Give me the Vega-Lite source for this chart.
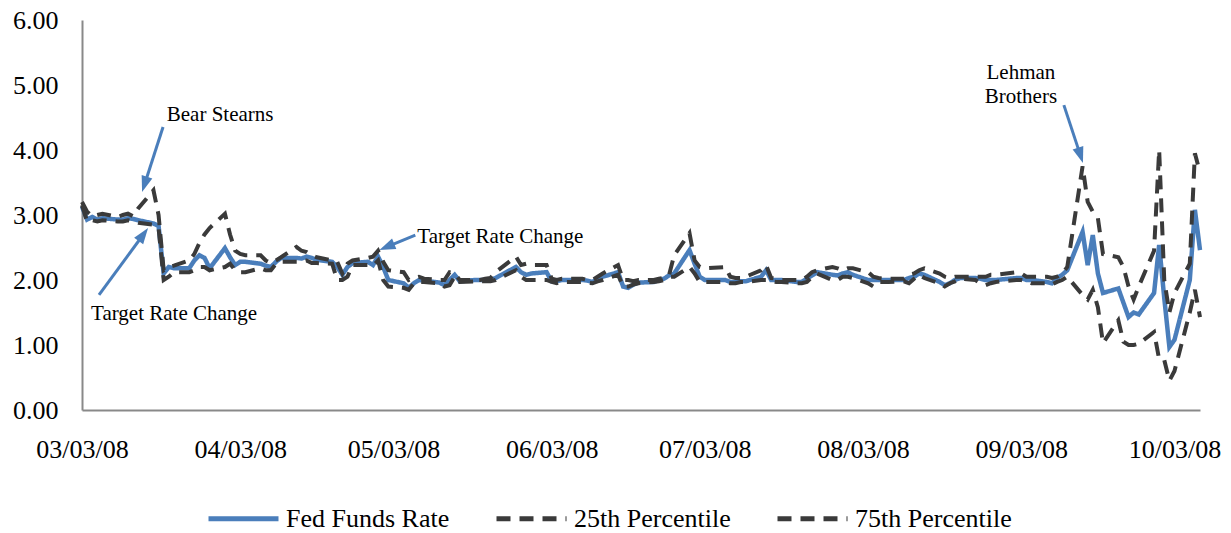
{
  "$schema": "https://vega.github.io/schema/vega-lite/v6.json",
  "width": 1118,
  "height": 390,
  "autosize": {"type": "none"},
  "padding": {"left": 82, "top": 20, "right": 31, "bottom": 123},
  "background": "#ffffff",
  "config": {
    "view": {"stroke": null},
    "font": "Liberation Serif",
    "axis": {"labelFont": "Liberation Serif", "labelFontSize": 26, "labelColor": "#000000", "grid": false, "ticks": false, "domainColor": "#898989", "domainWidth": 2, "title": null},
    "legend": {"labelFont": "Liberation Serif"}
  },
  "datasets": {
    "rates": [
      {"date": "2008-03-03", "Fed Funds Rate": 3.13, "25th Percentile": 3.15, "75th Percentile": 3.20},
      {"date": "2008-03-04", "Fed Funds Rate": 2.93, "25th Percentile": 2.90, "75th Percentile": 3.05},
      {"date": "2008-03-05", "Fed Funds Rate": 2.97, "25th Percentile": 2.92, "75th Percentile": 2.98},
      {"date": "2008-03-06", "Fed Funds Rate": 2.93, "25th Percentile": 2.90, "75th Percentile": 3.00},
      {"date": "2008-03-07", "Fed Funds Rate": 2.95, "25th Percentile": 2.92, "75th Percentile": 3.02},
      {"date": "2008-03-10", "Fed Funds Rate": 2.93, "25th Percentile": 2.90, "75th Percentile": 2.97},
      {"date": "2008-03-11", "Fed Funds Rate": 2.93, "25th Percentile": 2.90, "75th Percentile": 3.00},
      {"date": "2008-03-12", "Fed Funds Rate": 2.95, "25th Percentile": 2.92, "75th Percentile": 3.02},
      {"date": "2008-03-13", "Fed Funds Rate": 2.94, "25th Percentile": 2.90, "75th Percentile": 2.98},
      {"date": "2008-03-14", "Fed Funds Rate": 2.92, "25th Percentile": 2.88, "75th Percentile": 3.10},
      {"date": "2008-03-17", "Fed Funds Rate": 2.87, "25th Percentile": 2.85, "75th Percentile": 3.38},
      {"date": "2008-03-18", "Fed Funds Rate": 2.83, "25th Percentile": 2.80, "75th Percentile": 3.00},
      {"date": "2008-03-19", "Fed Funds Rate": 2.10, "25th Percentile": 2.00, "75th Percentile": 2.15},
      {"date": "2008-03-20", "Fed Funds Rate": 2.20, "25th Percentile": 2.05, "75th Percentile": 2.20},
      {"date": "2008-03-21", "Fed Funds Rate": 2.18, "25th Percentile": 2.12, "75th Percentile": 2.22},
      {"date": "2008-03-24", "Fed Funds Rate": 2.18, "25th Percentile": 2.12, "75th Percentile": 2.30},
      {"date": "2008-03-25", "Fed Funds Rate": 2.30, "25th Percentile": 2.15, "75th Percentile": 2.40},
      {"date": "2008-03-26", "Fed Funds Rate": 2.38, "25th Percentile": 2.20, "75th Percentile": 2.57},
      {"date": "2008-03-27", "Fed Funds Rate": 2.34, "25th Percentile": 2.20, "75th Percentile": 2.70},
      {"date": "2008-03-28", "Fed Funds Rate": 2.18, "25th Percentile": 2.15, "75th Percentile": 2.80},
      {"date": "2008-03-31", "Fed Funds Rate": 2.49, "25th Percentile": 2.20, "75th Percentile": 3.02},
      {"date": "2008-04-01", "Fed Funds Rate": 2.35, "25th Percentile": 2.25, "75th Percentile": 2.70},
      {"date": "2008-04-02", "Fed Funds Rate": 2.23, "25th Percentile": 2.15, "75th Percentile": 2.45},
      {"date": "2008-04-03", "Fed Funds Rate": 2.28, "25th Percentile": 2.12, "75th Percentile": 2.40},
      {"date": "2008-04-04", "Fed Funds Rate": 2.28, "25th Percentile": 2.12, "75th Percentile": 2.38},
      {"date": "2008-04-07", "Fed Funds Rate": 2.25, "25th Percentile": 2.18, "75th Percentile": 2.38},
      {"date": "2008-04-08", "Fed Funds Rate": 2.22, "25th Percentile": 2.15, "75th Percentile": 2.30},
      {"date": "2008-04-09", "Fed Funds Rate": 2.20, "25th Percentile": 2.15, "75th Percentile": 2.26},
      {"date": "2008-04-10", "Fed Funds Rate": 2.28, "25th Percentile": 2.25, "75th Percentile": 2.30},
      {"date": "2008-04-11", "Fed Funds Rate": 2.34, "25th Percentile": 2.28, "75th Percentile": 2.35},
      {"date": "2008-04-14", "Fed Funds Rate": 2.34, "25th Percentile": 2.28, "75th Percentile": 2.51},
      {"date": "2008-04-15", "Fed Funds Rate": 2.33, "25th Percentile": 2.28, "75th Percentile": 2.45},
      {"date": "2008-04-16", "Fed Funds Rate": 2.36, "25th Percentile": 2.30, "75th Percentile": 2.43},
      {"date": "2008-04-17", "Fed Funds Rate": 2.34, "25th Percentile": 2.26, "75th Percentile": 2.38},
      {"date": "2008-04-18", "Fed Funds Rate": 2.31, "25th Percentile": 2.26, "75th Percentile": 2.35},
      {"date": "2008-04-21", "Fed Funds Rate": 2.28, "25th Percentile": 2.25, "75th Percentile": 2.30},
      {"date": "2008-04-22", "Fed Funds Rate": 2.20, "25th Percentile": 2.00, "75th Percentile": 2.28},
      {"date": "2008-04-23", "Fed Funds Rate": 2.08, "25th Percentile": 2.00, "75th Percentile": 2.10},
      {"date": "2008-04-24", "Fed Funds Rate": 2.20, "25th Percentile": 2.05, "75th Percentile": 2.25},
      {"date": "2008-04-25", "Fed Funds Rate": 2.26, "25th Percentile": 2.23, "75th Percentile": 2.30},
      {"date": "2008-04-28", "Fed Funds Rate": 2.28, "25th Percentile": 2.23, "75th Percentile": 2.34},
      {"date": "2008-04-29", "Fed Funds Rate": 2.23, "25th Percentile": 2.22, "75th Percentile": 2.36},
      {"date": "2008-04-30", "Fed Funds Rate": 2.36, "25th Percentile": 2.30, "75th Percentile": 2.45},
      {"date": "2008-05-01", "Fed Funds Rate": 2.20, "25th Percentile": 2.00, "75th Percentile": 2.28},
      {"date": "2008-05-02", "Fed Funds Rate": 2.00, "25th Percentile": 1.90, "75th Percentile": 2.15},
      {"date": "2008-05-05", "Fed Funds Rate": 1.95, "25th Percentile": 1.88, "75th Percentile": 2.12},
      {"date": "2008-05-06", "Fed Funds Rate": 1.88, "25th Percentile": 1.85, "75th Percentile": 2.00},
      {"date": "2008-05-07", "Fed Funds Rate": 1.95, "25th Percentile": 1.95, "75th Percentile": 2.03},
      {"date": "2008-05-08", "Fed Funds Rate": 2.00, "25th Percentile": 1.97, "75th Percentile": 2.05},
      {"date": "2008-05-09", "Fed Funds Rate": 1.99, "25th Percentile": 1.97, "75th Percentile": 2.02},
      {"date": "2008-05-12", "Fed Funds Rate": 1.96, "25th Percentile": 1.95, "75th Percentile": 2.00},
      {"date": "2008-05-13", "Fed Funds Rate": 1.92, "25th Percentile": 1.90, "75th Percentile": 2.00},
      {"date": "2008-05-14", "Fed Funds Rate": 2.00, "25th Percentile": 1.92, "75th Percentile": 2.12},
      {"date": "2008-05-15", "Fed Funds Rate": 2.08, "25th Percentile": 2.05, "75th Percentile": 2.10},
      {"date": "2008-05-16", "Fed Funds Rate": 1.98, "25th Percentile": 1.97, "75th Percentile": 2.00},
      {"date": "2008-05-19", "Fed Funds Rate": 2.00, "25th Percentile": 1.98, "75th Percentile": 2.00},
      {"date": "2008-05-20", "Fed Funds Rate": 2.00, "25th Percentile": 1.98, "75th Percentile": 2.00},
      {"date": "2008-05-21", "Fed Funds Rate": 2.00, "25th Percentile": 1.98, "75th Percentile": 2.02},
      {"date": "2008-05-22", "Fed Funds Rate": 2.00, "25th Percentile": 1.98, "75th Percentile": 2.03},
      {"date": "2008-05-23", "Fed Funds Rate": 2.03, "25th Percentile": 2.00, "75th Percentile": 2.12},
      {"date": "2008-05-27", "Fed Funds Rate": 2.20, "25th Percentile": 2.15, "75th Percentile": 2.36},
      {"date": "2008-05-28", "Fed Funds Rate": 2.12, "25th Percentile": 2.05, "75th Percentile": 2.23},
      {"date": "2008-05-29", "Fed Funds Rate": 2.08, "25th Percentile": 2.00, "75th Percentile": 2.25},
      {"date": "2008-05-30", "Fed Funds Rate": 2.10, "25th Percentile": 2.00, "75th Percentile": 2.23},
      {"date": "2008-06-02", "Fed Funds Rate": 2.12, "25th Percentile": 2.00, "75th Percentile": 2.23},
      {"date": "2008-06-03", "Fed Funds Rate": 1.98, "25th Percentile": 1.97, "75th Percentile": 2.02},
      {"date": "2008-06-04", "Fed Funds Rate": 1.98, "25th Percentile": 1.95, "75th Percentile": 2.00},
      {"date": "2008-06-05", "Fed Funds Rate": 2.00, "25th Percentile": 1.97, "75th Percentile": 2.02},
      {"date": "2008-06-06", "Fed Funds Rate": 2.00, "25th Percentile": 1.97, "75th Percentile": 2.02},
      {"date": "2008-06-09", "Fed Funds Rate": 2.00, "25th Percentile": 1.97, "75th Percentile": 2.02},
      {"date": "2008-06-10", "Fed Funds Rate": 1.99, "25th Percentile": 1.96, "75th Percentile": 2.00},
      {"date": "2008-06-11", "Fed Funds Rate": 1.97, "25th Percentile": 1.95, "75th Percentile": 2.00},
      {"date": "2008-06-12", "Fed Funds Rate": 2.02, "25th Percentile": 1.98, "75th Percentile": 2.05},
      {"date": "2008-06-13", "Fed Funds Rate": 2.05, "25th Percentile": 2.00, "75th Percentile": 2.10},
      {"date": "2008-06-16", "Fed Funds Rate": 2.12, "25th Percentile": 2.08, "75th Percentile": 2.23},
      {"date": "2008-06-17", "Fed Funds Rate": 1.90, "25th Percentile": 1.90, "75th Percentile": 2.00},
      {"date": "2008-06-18", "Fed Funds Rate": 1.88, "25th Percentile": 1.90, "75th Percentile": 2.00},
      {"date": "2008-06-19", "Fed Funds Rate": 1.93, "25th Percentile": 1.93, "75th Percentile": 1.98},
      {"date": "2008-06-20", "Fed Funds Rate": 1.96, "25th Percentile": 1.95, "75th Percentile": 2.00},
      {"date": "2008-06-23", "Fed Funds Rate": 1.97, "25th Percentile": 1.97, "75th Percentile": 2.00},
      {"date": "2008-06-24", "Fed Funds Rate": 2.00, "25th Percentile": 1.98, "75th Percentile": 2.02},
      {"date": "2008-06-25", "Fed Funds Rate": 2.02, "25th Percentile": 2.00, "75th Percentile": 2.03},
      {"date": "2008-06-26", "Fed Funds Rate": 2.07, "25th Percentile": 2.05, "75th Percentile": 2.08},
      {"date": "2008-06-27", "Fed Funds Rate": 2.10, "25th Percentile": 2.05, "75th Percentile": 2.38},
      {"date": "2008-06-30", "Fed Funds Rate": 2.46, "25th Percentile": 2.20, "75th Percentile": 2.72},
      {"date": "2008-07-01", "Fed Funds Rate": 2.25, "25th Percentile": 2.10, "75th Percentile": 2.30},
      {"date": "2008-07-02", "Fed Funds Rate": 2.05, "25th Percentile": 1.97, "75th Percentile": 2.20},
      {"date": "2008-07-03", "Fed Funds Rate": 2.00, "25th Percentile": 1.97, "75th Percentile": 2.18},
      {"date": "2008-07-07", "Fed Funds Rate": 2.00, "25th Percentile": 1.97, "75th Percentile": 2.20},
      {"date": "2008-07-08", "Fed Funds Rate": 1.97, "25th Percentile": 1.95, "75th Percentile": 2.05},
      {"date": "2008-07-09", "Fed Funds Rate": 1.97, "25th Percentile": 1.95, "75th Percentile": 2.03},
      {"date": "2008-07-10", "Fed Funds Rate": 1.98, "25th Percentile": 1.97, "75th Percentile": 2.03},
      {"date": "2008-07-11", "Fed Funds Rate": 1.98, "25th Percentile": 1.97, "75th Percentile": 2.05},
      {"date": "2008-07-14", "Fed Funds Rate": 2.05, "25th Percentile": 2.00, "75th Percentile": 2.15},
      {"date": "2008-07-15", "Fed Funds Rate": 2.15, "25th Percentile": 2.00, "75th Percentile": 2.23},
      {"date": "2008-07-16", "Fed Funds Rate": 2.00, "25th Percentile": 1.98, "75th Percentile": 2.03},
      {"date": "2008-07-17", "Fed Funds Rate": 2.00, "25th Percentile": 1.97, "75th Percentile": 2.02},
      {"date": "2008-07-18", "Fed Funds Rate": 2.00, "25th Percentile": 1.97, "75th Percentile": 2.00},
      {"date": "2008-07-21", "Fed Funds Rate": 1.97, "25th Percentile": 1.95, "75th Percentile": 2.00},
      {"date": "2008-07-22", "Fed Funds Rate": 1.97, "25th Percentile": 1.95, "75th Percentile": 2.00},
      {"date": "2008-07-23", "Fed Funds Rate": 2.02, "25th Percentile": 1.97, "75th Percentile": 2.05},
      {"date": "2008-07-24", "Fed Funds Rate": 2.07, "25th Percentile": 2.05, "75th Percentile": 2.12},
      {"date": "2008-07-25", "Fed Funds Rate": 2.12, "25th Percentile": 2.10, "75th Percentile": 2.15},
      {"date": "2008-07-28", "Fed Funds Rate": 2.08, "25th Percentile": 2.00, "75th Percentile": 2.20},
      {"date": "2008-07-29", "Fed Funds Rate": 2.07, "25th Percentile": 2.00, "75th Percentile": 2.18},
      {"date": "2008-07-30", "Fed Funds Rate": 2.10, "25th Percentile": 2.05, "75th Percentile": 2.15},
      {"date": "2008-07-31", "Fed Funds Rate": 2.12, "25th Percentile": 2.05, "75th Percentile": 2.18},
      {"date": "2008-08-01", "Fed Funds Rate": 2.08, "25th Percentile": 2.03, "75th Percentile": 2.18},
      {"date": "2008-08-04", "Fed Funds Rate": 2.00, "25th Percentile": 1.95, "75th Percentile": 2.12},
      {"date": "2008-08-05", "Fed Funds Rate": 2.00, "25th Percentile": 1.90, "75th Percentile": 2.05},
      {"date": "2008-08-06", "Fed Funds Rate": 2.00, "25th Percentile": 1.97, "75th Percentile": 2.03},
      {"date": "2008-08-07", "Fed Funds Rate": 2.00, "25th Percentile": 1.97, "75th Percentile": 2.02},
      {"date": "2008-08-08", "Fed Funds Rate": 2.00, "25th Percentile": 1.97, "75th Percentile": 2.02},
      {"date": "2008-08-11", "Fed Funds Rate": 2.00, "25th Percentile": 1.98, "75th Percentile": 2.02},
      {"date": "2008-08-12", "Fed Funds Rate": 2.03, "25th Percentile": 1.95, "75th Percentile": 2.08},
      {"date": "2008-08-13", "Fed Funds Rate": 2.05, "25th Percentile": 2.02, "75th Percentile": 2.10},
      {"date": "2008-08-14", "Fed Funds Rate": 2.10, "25th Percentile": 2.08, "75th Percentile": 2.15},
      {"date": "2008-08-15", "Fed Funds Rate": 2.08, "25th Percentile": 2.03, "75th Percentile": 2.18},
      {"date": "2008-08-18", "Fed Funds Rate": 1.97, "25th Percentile": 1.95, "75th Percentile": 2.10},
      {"date": "2008-08-19", "Fed Funds Rate": 1.92, "25th Percentile": 1.90, "75th Percentile": 2.05},
      {"date": "2008-08-20", "Fed Funds Rate": 1.95, "25th Percentile": 1.95, "75th Percentile": 2.03},
      {"date": "2008-08-21", "Fed Funds Rate": 2.00, "25th Percentile": 1.98, "75th Percentile": 2.05},
      {"date": "2008-08-22", "Fed Funds Rate": 2.03, "25th Percentile": 2.02, "75th Percentile": 2.05},
      {"date": "2008-08-25", "Fed Funds Rate": 2.03, "25th Percentile": 2.00, "75th Percentile": 2.05},
      {"date": "2008-08-26", "Fed Funds Rate": 2.02, "25th Percentile": 1.95, "75th Percentile": 2.05},
      {"date": "2008-08-27", "Fed Funds Rate": 2.00, "25th Percentile": 1.92, "75th Percentile": 2.05},
      {"date": "2008-08-28", "Fed Funds Rate": 2.00, "25th Percentile": 1.95, "75th Percentile": 2.08},
      {"date": "2008-08-29", "Fed Funds Rate": 2.00, "25th Percentile": 1.97, "75th Percentile": 2.08},
      {"date": "2008-09-02", "Fed Funds Rate": 2.03, "25th Percentile": 2.00, "75th Percentile": 2.12},
      {"date": "2008-09-03", "Fed Funds Rate": 2.03, "25th Percentile": 2.00, "75th Percentile": 2.10},
      {"date": "2008-09-04", "Fed Funds Rate": 2.00, "25th Percentile": 1.98, "75th Percentile": 2.05},
      {"date": "2008-09-05", "Fed Funds Rate": 2.00, "25th Percentile": 1.95, "75th Percentile": 2.05},
      {"date": "2008-09-08", "Fed Funds Rate": 1.97, "25th Percentile": 1.95, "75th Percentile": 2.05},
      {"date": "2008-09-09", "Fed Funds Rate": 1.95, "25th Percentile": 1.93, "75th Percentile": 2.03},
      {"date": "2008-09-10", "Fed Funds Rate": 2.03, "25th Percentile": 1.97, "75th Percentile": 2.05},
      {"date": "2008-09-11", "Fed Funds Rate": 2.08, "25th Percentile": 2.00, "75th Percentile": 2.10},
      {"date": "2008-09-12", "Fed Funds Rate": 2.15, "25th Percentile": 2.05, "75th Percentile": 2.20},
      {"date": "2008-09-15", "Fed Funds Rate": 2.74, "25th Percentile": 1.77, "75th Percentile": 3.75},
      {"date": "2008-09-16", "Fed Funds Rate": 2.23, "25th Percentile": 1.70, "75th Percentile": 3.20},
      {"date": "2008-09-17", "Fed Funds Rate": 2.69, "25th Percentile": 1.85, "75th Percentile": 3.05},
      {"date": "2008-09-18", "Fed Funds Rate": 2.10, "25th Percentile": 1.58, "75th Percentile": 2.95},
      {"date": "2008-09-19", "Fed Funds Rate": 1.80, "25th Percentile": 1.03, "75th Percentile": 2.40},
      {"date": "2008-09-22", "Fed Funds Rate": 1.87, "25th Percentile": 1.38, "75th Percentile": 2.35},
      {"date": "2008-09-23", "Fed Funds Rate": 1.65, "25th Percentile": 1.05, "75th Percentile": 2.20},
      {"date": "2008-09-24", "Fed Funds Rate": 1.43, "25th Percentile": 1.00, "75th Percentile": 1.90},
      {"date": "2008-09-25", "Fed Funds Rate": 1.50, "25th Percentile": 1.00, "75th Percentile": 1.70},
      {"date": "2008-09-26", "Fed Funds Rate": 1.47, "25th Percentile": 1.02, "75th Percentile": 1.90},
      {"date": "2008-09-29", "Fed Funds Rate": 1.80, "25th Percentile": 1.20, "75th Percentile": 2.45},
      {"date": "2008-09-30", "Fed Funds Rate": 2.54, "25th Percentile": 0.78, "75th Percentile": 4.00},
      {"date": "2008-10-01", "Fed Funds Rate": 1.72, "25th Percentile": 0.77, "75th Percentile": 2.00},
      {"date": "2008-10-02", "Fed Funds Rate": 0.97, "25th Percentile": 0.45, "75th Percentile": 1.50},
      {"date": "2008-10-03", "Fed Funds Rate": 1.08, "25th Percentile": 0.60, "75th Percentile": 1.80},
      {"date": "2008-10-06", "Fed Funds Rate": 2.00, "25th Percentile": 1.50, "75th Percentile": 2.25},
      {"date": "2008-10-07", "Fed Funds Rate": 3.08, "25th Percentile": 1.85, "75th Percentile": 3.95},
      {"date": "2008-10-08", "Fed Funds Rate": 2.46, "25th Percentile": 1.43, "75th Percentile": 3.65}
    ],
    "notes": [
      {"date": "2008-03-30T01:30:00Z", "value": 4.54, "label": "Bear Stearns"},
      {"date": "2008-03-21T01:00:00Z", "value": 1.48, "label": "Target Rate Change"},
      {"date": "2008-05-23T23:00:00Z", "value": 2.66, "label": "Target Rate Change"},
      {"date": "2008-09-02T22:00:00Z", "value": 5.18, "label": "Lehman"},
      {"date": "2008-09-02T22:00:00Z", "value": 4.815, "label": "Brothers"}
    ],
    "arrows": [
      {"id": "bear", "date": "2008-03-18T21:00:00Z", "value": 4.354, "date2": "2008-03-15T06:00:00Z", "value2": 3.47},
      {"id": "cut1", "date": "2008-03-06T08:00:00Z", "value": 1.77, "date2": "2008-03-15T00:30:00Z", "value2": 2.70},
      {"id": "cut2", "date": "2008-05-07T07:00:00Z", "value": 2.69, "date2": "2008-05-01T17:00:00Z", "value2": 2.51},
      {"id": "lehman", "date": "2008-09-11T08:00:00Z", "value": 4.69, "date2": "2008-09-14T14:00:00Z", "value2": 3.917}
    ]
  },
  "encoding": {
    "x": {
      "field": "date", "type": "temporal",
      "scale": {"type": "utc", "domain": [{"year": 2008, "month": 3, "date": 3, "utc": true}, {"year": 2008, "month": 10, "date": 8, "utc": true}]},
      "axis": {
        "values": [
          {"year": 2008, "month": 3, "date": 3, "utc": true},
          {"year": 2008, "month": 4, "date": 3, "utc": true},
          {"year": 2008, "month": 5, "date": 3, "utc": true},
          {"year": 2008, "month": 6, "date": 3, "utc": true},
          {"year": 2008, "month": 7, "date": 3, "utc": true},
          {"year": 2008, "month": 8, "date": 3, "utc": true},
          {"year": 2008, "month": 9, "date": 3, "utc": true},
          {"year": 2008, "month": 10, "date": 3, "utc": true}
        ],
        "labelExpr": "utcFormat(datum.value, '%m/%d/%y')", "labelFlush": false, "labelOverlap": false, "labelPadding": 26
      }
    },
    "y": {
      "field": "value", "type": "quantitative",
      "scale": {"domain": [0, 6], "nice": false, "zero": true},
      "axis": {"values": [0, 1, 2, 3, 4, 5, 6], "format": ".2f", "labelPadding": 24}
    }
  },
  "layer": [
    {
      "data": {"name": "rates"},
      "transform": [{"fold": ["Fed Funds Rate", "25th Percentile", "75th Percentile"], "as": ["series", "value"]}],
      "encoding": {
        "color": {
          "field": "series", "type": "nominal",
          "scale": {"domain": ["Fed Funds Rate", "25th Percentile", "75th Percentile"], "range": ["#4a7ebb", "#3a3a3a", "#3a3a3a"]},
          "legend": {"orient": "none", "legendX": 124, "legendY": 461, "direction": "horizontal", "title": null, "symbolType": "stroke", "symbolSize": 4900, "symbolStrokeWidth": 5, "labelFontSize": 26, "labelColor": "#000000", "labelLimit": 0, "columnPadding": 36, "labelOffset": 5, "padding": 0}
        },
        "strokeDash": {
          "field": "series", "type": "nominal",
          "scale": {"domain": ["Fed Funds Rate", "25th Percentile", "75th Percentile"], "range": [[1, 0], [14, 9], [14, 9]]},
          "legend": {"orient": "none", "legendX": 124, "legendY": 461, "direction": "horizontal", "title": null, "symbolType": "stroke", "symbolSize": 4900, "symbolStrokeWidth": 5, "labelFontSize": 26, "labelColor": "#000000", "labelLimit": 0, "columnPadding": 36, "labelOffset": 5, "padding": 0}
        }
      },
      "layer": [
        {"transform": [{"filter": "datum.series === 'Fed Funds Rate'"}], "mark": {"type": "line", "strokeWidth": 4.5}},
        {"transform": [{"filter": "datum.series !== 'Fed Funds Rate'"}], "mark": {"type": "line", "strokeWidth": 4}}
      ]
    },
    {
      "data": {"name": "notes"},
      "mark": {"type": "text", "font": "Liberation Serif", "fontSize": 21, "align": "center", "baseline": "middle", "color": "#000000"},
      "encoding": {"text": {"field": "label"}}
    },
    {
      "data": {"name": "arrows"},
      "mark": {"type": "rule", "color": "#4a7ebb", "strokeWidth": 3},
      "encoding": {"x2": {"field": "date2"}, "y2": {"field": "value2"}}
    },
    {
      "data": {"name": "arrows"},
      "transform": [{"filter": "datum.id === 'bear'"}],
      "mark": {"type": "point", "shape": "M-0.7,1L0.7,1L0,-1Z", "size": 256, "filled": true, "opacity": 1, "color": "#4a7ebb", "angle": 197.9},
      "encoding": {"x": {"field": "date2", "type": "temporal"}, "y": {"field": "value2", "type": "quantitative"}}
    },
    {
      "data": {"name": "arrows"},
      "transform": [{"filter": "datum.id === 'cut1'"}],
      "mark": {"type": "point", "shape": "M-0.7,1L0.7,1L0,-1Z", "size": 256, "filled": true, "opacity": 1, "color": "#4a7ebb", "angle": 36.1},
      "encoding": {"x": {"field": "date2", "type": "temporal"}, "y": {"field": "value2", "type": "quantitative"}}
    },
    {
      "data": {"name": "arrows"},
      "transform": [{"filter": "datum.id === 'cut2'"}],
      "mark": {"type": "point", "shape": "M-0.7,1L0.7,1L0,-1Z", "size": 256, "filled": true, "opacity": 1, "color": "#4a7ebb", "angle": 247.4},
      "encoding": {"x": {"field": "date2", "type": "temporal"}, "y": {"field": "value2", "type": "quantitative"}}
    },
    {
      "data": {"name": "arrows"},
      "transform": [{"filter": "datum.id === 'lehman'"}],
      "mark": {"type": "point", "shape": "M-0.7,1L0.7,1L0,-1Z", "size": 256, "filled": true, "opacity": 1, "color": "#4a7ebb", "angle": 161.9},
      "encoding": {"x": {"field": "date2", "type": "temporal"}, "y": {"field": "value2", "type": "quantitative"}}
    }
  ]
}
